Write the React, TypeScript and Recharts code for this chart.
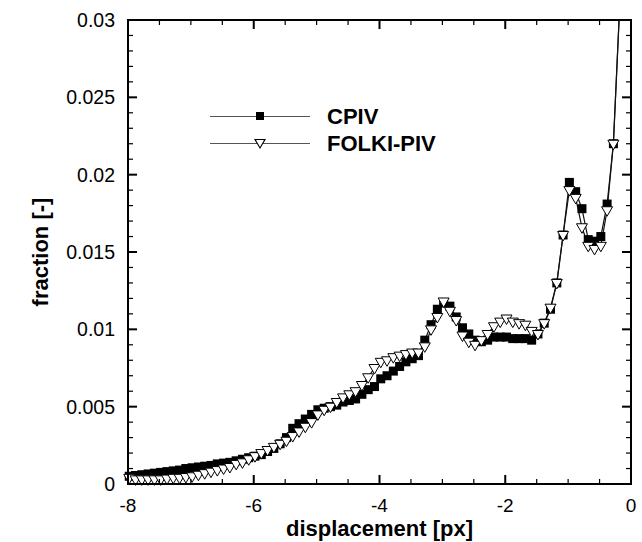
// Displacement histogram, CPIV vs FOLKI-PIV, boxed Tecplot-style frame
import React from 'react';
import {
    LineChart,
    Line,
    XAxis,
    YAxis,
    Legend,
} from 'recharts';

document.body.style.margin = '0';

const FONT = "'Liberation Sans', Arial, Helvetica, sans-serif";

const X_TICKS = [-8, -7.5, -7, -6.5, -6, -5.5, -5, -4.5, -4, -3.5, -3, -2.5, -2, -1.5, -1, -0.5, 0];
const Y_TICKS = [
    0, 0.001, 0.002, 0.003, 0.004, 0.005, 0.006, 0.007, 0.008, 0.009,
    0.01, 0.011, 0.012, 0.013, 0.014, 0.015, 0.016, 0.017, 0.018, 0.019,
    0.02, 0.021, 0.022, 0.023, 0.024, 0.025, 0.026, 0.027, 0.028, 0.029, 0.03,
];

// displacement bins [px]; the last bin is where both curves leave the frame at the top
const DISPLACEMENT = [
    -7.98, -7.88, -7.78, -7.68, -7.58, -7.48, -7.38, -7.28, -7.18, -7.08,
    -6.98, -6.88, -6.78, -6.68, -6.58, -6.48, -6.38, -6.28, -6.18, -6.08,
    -5.98, -5.88, -5.78, -5.68, -5.58, -5.48, -5.38, -5.28, -5.18, -5.08,
    -4.98, -4.88, -4.78, -4.68, -4.58, -4.48, -4.38, -4.28, -4.18, -4.08,
    -3.98, -3.88, -3.78, -3.68, -3.58, -3.48, -3.38, -3.28, -3.18, -3.08,
    -2.98, -2.88, -2.78, -2.68, -2.58, -2.48, -2.38, -2.28, -2.18, -2.08,
    -1.98, -1.88, -1.78, -1.68, -1.58, -1.48, -1.38, -1.28, -1.18, -1.08,
    -0.98, -0.88, -0.78, -0.68, -0.58, -0.48, -0.38, -0.28, -0.19,
];

const CPIV = [
    0.0005, 0.00055, 0.0006, 0.00065, 0.0007, 0.00075, 0.0008, 0.00085, 0.0009, 0.001,
    0.00105, 0.0011, 0.00115, 0.0012, 0.0013, 0.00135, 0.0014, 0.0015, 0.0016, 0.0017,
    0.0018, 0.0019, 0.0021, 0.0023, 0.0026, 0.003, 0.0036, 0.0039, 0.0042, 0.0045,
    0.0048, 0.0049, 0.005, 0.0051, 0.0053, 0.0054, 0.0055, 0.0058, 0.0061, 0.0063,
    0.0068, 0.007, 0.0073, 0.0076, 0.0079, 0.0081, 0.0083, 0.0093, 0.0103, 0.0113,
    0.0117, 0.0115, 0.0108, 0.0101, 0.0097, 0.0093, 0.0092, 0.0093, 0.0095, 0.0095,
    0.0095, 0.0094, 0.0094, 0.0094, 0.0093, 0.0097, 0.0104, 0.0113, 0.013, 0.0161,
    0.0195, 0.0189, 0.0178, 0.0158, 0.0157, 0.016, 0.0181, 0.022, 0.03,
];

const FOLKI = [
    0.0004, 0.0003, 0.0003, 0.0003, 0.0003, 0.0003, 0.00035, 0.0004, 0.0004, 0.00045,
    0.0005, 0.0006, 0.0007, 0.0008, 0.0009, 0.001, 0.0011, 0.0013, 0.0014, 0.0016,
    0.0018, 0.002, 0.0022, 0.0024, 0.0026, 0.0028, 0.0031, 0.0034, 0.0037, 0.004,
    0.0045, 0.0048, 0.005, 0.0053, 0.0056, 0.0058, 0.006, 0.0064, 0.0069, 0.0075,
    0.0079, 0.008, 0.0082, 0.0083, 0.0084, 0.0085, 0.0085, 0.0089, 0.01, 0.0108,
    0.0118, 0.0112, 0.0106, 0.0096, 0.0092, 0.009, 0.0093, 0.0097, 0.0102, 0.0105,
    0.0107, 0.0105, 0.0104, 0.0103, 0.0099, 0.0097, 0.0104, 0.0114, 0.013, 0.0161,
    0.019, 0.0185, 0.0166, 0.0154, 0.0152, 0.0154, 0.0177, 0.022, 0.03,
];

const X_MIN = -8;
const X_MAX = 0;
const Y_MIN = 0;
const Y_MAX = 0.03;
const X_MID = -4;
const Y_MID = 0.015;

const W = 642;
const H = 542;
const PLOT = { left: 128, top: 20, right: 631, bottom: 484 };

const data = DISPLACEMENT.map((x, i) => ({ x, cpiv: CPIV[i], folki: FOLKI[i] }));

const isMajorX = (v: number) => Math.abs(v / 2 - Math.round(v / 2)) < 1e-6;
const isMajorY = (v: number) => Math.abs(v / 0.005 - Math.round(v / 0.005)) < 1e-6;
const same = (a: number, b: number) => Math.abs(a - b) < 1e-9;

// inward ticks; the axis titles ride on the middle tick of each axis
function BottomTick(props: any) {
    const { x, y, payload } = props;
    const major = isMajorX(payload.value);
    const len = major ? 9 : 5;
    const w = major ? 2 : 1.2;
    return (
        <g>
            <rect x={x - w / 2} y={y - len} width={w} height={len} fill="#000" />
            {major && (
                <text x={x} y={y + 28} textAnchor="middle" fontSize={19} fontFamily={FONT} fill="#000">
                    {payload.value}
                </text>
            )}
            {same(payload.value, X_MID) && (
                <text x={x} y={y + 52} textAnchor="middle" fontSize={22} fontWeight="bold" fontFamily={FONT} fill="#000">
                    displacement [px]
                </text>
            )}
        </g>
    );
}

function TopTick(props: any) {
    const { x, y, payload } = props;
    const major = isMajorX(payload.value);
    const len = major ? 9 : 5;
    const w = major ? 2 : 1.2;
    return <rect x={x - w / 2} y={y} width={w} height={len} fill="#000" />;
}

function LeftTick(props: any) {
    const { x, y, payload } = props;
    const major = isMajorY(payload.value);
    const len = major ? 9 : 5;
    const w = major ? 2 : 1.2;
    const tx = x - 88;
    return (
        <g>
            <rect x={x} y={y - w / 2} width={len} height={w} fill="#000" />
            {major && (
                <text x={x - 13} y={y + 7} textAnchor="end" fontSize={19.5} fontFamily={FONT} fill="#000">
                    {payload.value}
                </text>
            )}
            {same(payload.value, Y_MID) && (
                <text
                    x={tx}
                    y={y}
                    dy={8}
                    transform={`rotate(-90, ${tx}, ${y})`}
                    textAnchor="middle"
                    fontSize={22}
                    fontWeight="bold"
                    fontFamily={FONT}
                    fill="#000"
                >
                    fraction [-]
                </text>
            )}
        </g>
    );
}

function RightTick(props: any) {
    const { x, y, payload } = props;
    const major = isMajorY(payload.value);
    const len = major ? 9 : 5;
    const w = major ? 2 : 1.2;
    return <rect x={x - len} y={y - w / 2} width={len} height={w} fill="#000" />;
}

// the last point lies on the frame edge where the curve exits; no marker is drawn there
function SquareDot(props: any) {
    const { cx, cy, index, value } = props;
    if (cx == null || cy == null || value >= Y_MAX) return <g key={`s-${index}`} />;
    return <rect key={`s-${index}`} x={cx - 4.5} y={cy - 4.5} width={9} height={9} fill="#000" />;
}

function TriangleDot(props: any) {
    const { cx, cy, index, value } = props;
    if (cx == null || cy == null || value >= Y_MAX) return <g key={`t-${index}`} />;
    return (
        <polygon
            key={`t-${index}`}
            points={`${cx - 5.5},${cy - 3.5} ${cx + 5.5},${cy - 3.5} ${cx},${cy + 6}`}
            fill="#fff"
            stroke="#000"
            strokeWidth={1}
        />
    );
}

function LegendRow({ label, marker }: { label: string; marker: React.ReactNode }) {
    return (
        <div style={{ display: 'flex', alignItems: 'center', height: 27 }}>
            <div style={{ position: 'relative', width: 100, height: 1.5, background: '#555', marginLeft: 5 }}>
                {marker}
            </div>
            <span style={{ marginLeft: 17, fontSize: 22, fontWeight: 'bold', fontFamily: FONT, color: '#000', lineHeight: '27px' }}>
                {label}
            </span>
        </div>
    );
}

function LegendBox() {
    const square = <div style={{ position: 'absolute', left: 46, top: -3.5, width: 8, height: 8, background: '#000' }} />;
    const triangle = (
        <div style={{ position: 'absolute', left: 44, top: -4 }}>
            <div style={{ width: 0, height: 0, borderLeft: '6px solid transparent', borderRight: '6px solid transparent', borderTop: '10px solid #000' }} />
            <div style={{ position: 'absolute', left: 1.8, top: 1.2, width: 0, height: 0, borderLeft: '4.2px solid transparent', borderRight: '4.2px solid transparent', borderTop: '7px solid #fff' }} />
        </div>
    );
    return (
        <div>
            <LegendRow label="CPIV" marker={square} />
            <LegendRow label="FOLKI-PIV" marker={triangle} />
        </div>
    );
}

// plain frame outline, drawn over the plot box
function Frame() {
    return (
        <svg width={W} height={H} style={{ position: 'absolute', left: 0, top: 0, pointerEvents: 'none' }}>
            <rect
                x={PLOT.left}
                y={PLOT.top}
                width={PLOT.right - PLOT.left}
                height={PLOT.bottom - PLOT.top}
                fill="none"
                stroke="#000"
                strokeWidth={2}
            />
        </svg>
    );
}

export default function App() {
    return (
        <div style={{ position: 'relative', width: W, height: H, background: '#fff' }}>
            <LineChart width={W} height={H} data={data} margin={{ top: 0, right: 0, bottom: 0, left: 0 }}>
                <XAxis
                    xAxisId="bottom"
                    dataKey="x"
                    type="number"
                    domain={[X_MIN, X_MAX]}
                    ticks={X_TICKS}
                    interval={0}
                    height={H - PLOT.bottom}
                    tickSize={0}
                    tickMargin={0}
                    tickLine={false}
                    tick={BottomTick}
                    axisLine={{ stroke: '#000', strokeWidth: 2 }}
                />
                <XAxis
                    xAxisId="top"
                    orientation="top"
                    dataKey="x"
                    type="number"
                    domain={[X_MIN, X_MAX]}
                    ticks={X_TICKS}
                    interval={0}
                    height={PLOT.top}
                    tickSize={0}
                    tickMargin={0}
                    tickLine={false}
                    tick={TopTick}
                    axisLine={{ stroke: '#000', strokeWidth: 2 }}
                />
                <YAxis
                    yAxisId="left"
                    type="number"
                    domain={[Y_MIN, Y_MAX]}
                    ticks={Y_TICKS}
                    interval={0}
                    width={PLOT.left}
                    tickSize={0}
                    tickMargin={0}
                    tickLine={false}
                    tick={LeftTick}
                    axisLine={{ stroke: '#000', strokeWidth: 2 }}
                />
                <YAxis
                    yAxisId="right"
                    orientation="right"
                    type="number"
                    domain={[Y_MIN, Y_MAX]}
                    ticks={Y_TICKS}
                    interval={0}
                    width={W - PLOT.right}
                    tickSize={0}
                    tickMargin={0}
                    tickLine={false}
                    tick={RightTick}
                    axisLine={{ stroke: '#000', strokeWidth: 2 }}
                />
                <Legend
                    layout="vertical"
                    align="center"
                    verticalAlign="middle"
                    content={() => <LegendBox />}
                    wrapperStyle={{ left: 205, top: 103, width: 260, height: 54 }}
                />
                <Line
                    xAxisId="bottom"
                    yAxisId="left"
                    dataKey="cpiv"
                    name="CPIV"
                    stroke="#111"
                    strokeWidth={1.2}
                    dot={SquareDot}
                    activeDot={false}
                    isAnimationActive={false}
                />
                <Line
                    xAxisId="top"
                    yAxisId="right"
                    dataKey="folki"
                    name="FOLKI-PIV"
                    stroke="#111"
                    strokeWidth={1.2}
                    dot={TriangleDot}
                    activeDot={false}
                    isAnimationActive={false}
                />
            </LineChart>
            <Frame />
        </div>
    );
}
